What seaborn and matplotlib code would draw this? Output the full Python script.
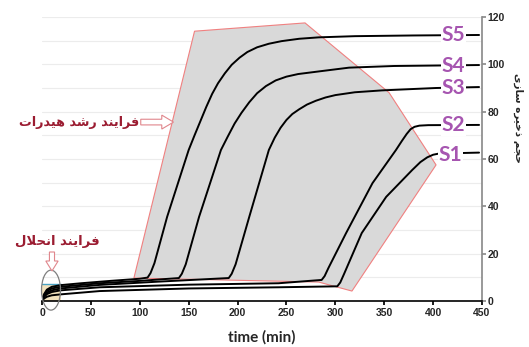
import numpy as np
import pandas as pd
import seaborn as sns
import matplotlib.pyplot as plt
from matplotlib.patches import Polygon, Rectangle, Ellipse, FancyArrow

# curves (time in min, storage volume)
s1_t = [0, 2, 5, 10, 19, 59, 150, 242, 302, 305, 309, 327, 352, 378.5, 387, 394, 400, 406, 447]
s1_v = [0, 1.0, 1.8, 2.4, 2.8, 4.2, 5.3, 5.8, 6.2, 7.8, 11.5, 28.7, 44, 55.3, 58.7, 60.7, 61.8, 62.3, 62.7]
s2_t = [0, 2, 5, 10, 19, 59, 150, 242, 286, 289, 293, 311, 338, 362, 368, 373, 377, 381, 386, 395, 447]
s2_v = [0, 1.6, 2.9, 3.8, 4.5, 5.8, 6.9, 7.5, 8.9, 10.5, 14, 28.7, 49.8, 63.8, 67.6, 70.6, 72.6, 73.6, 74.1, 74.3, 74.4]
s3_t = [0, 2, 5, 10, 19, 59, 120, 191, 194, 198, 212, 232, 238, 244, 250, 256, 263, 271, 280, 290, 300, 320, 348, 403, 447]
s3_v = [0, 2.0, 3.5, 4.5, 5.3, 6.8, 8.2, 9.7, 11.5, 15.5, 35.6, 63.8, 69, 73.2, 76.5, 79, 81, 83, 84.6, 86, 87, 88.2, 89, 90, 90.4]
s4_t = [0, 2, 5, 10, 19, 59, 100, 140, 143, 147, 160.6, 183, 190, 197, 204, 212, 220, 229, 239, 250, 262, 283, 314, 360, 447]
s4_v = [0, 2.4, 4.2, 5.3, 6.0, 7.5, 8.5, 9.7, 11.5, 15.5, 35.5, 63.8, 69.5, 75, 79.5, 84, 87.8, 90.8, 93.2, 94.8, 95.9, 97, 98.6, 99.3, 99.7]
s5_t = [0, 2, 5, 10, 19, 40, 70, 100, 108, 111, 115, 128, 150, 156, 162, 168, 174, 180, 187, 194, 202, 210, 220, 232, 245, 263, 283, 320, 380, 447]
s5_v = [0, 2.8, 4.8, 6.0, 6.7, 7.5, 8.5, 9.4, 9.9, 11.8, 16, 35.6, 63.8, 70, 76, 82, 87.5, 92, 96.2, 99.8, 102.8, 105.2, 107.2, 108.7, 109.8, 110.8, 111.4, 111.9, 112.2, 112.4]

labels = ["S1", "S2", "S3", "S4", "S5"]
label_t = [418, 421, 421, 421, 421]
label_v = [61.7, 74.4, 90.0, 99.3, 112.4]

# shaded growth region outline
region_t = [94, 156, 269, 355, 403, 317, 283]
region_v = [9.7, 114, 117.5, 88, 57.5, 4.2, 8.0]

series = [(s1_t, s1_v), (s2_t, s2_v), (s3_t, s3_v), (s4_t, s4_v), (s5_t, s5_v)]
df = pd.concat([pd.DataFrame({"time": t, "volume": v, "series": name})
                for name, (t, v) in zip(labels, series)], ignore_index=True)

# minimal Persian shaping (presentation forms: isolated, final, initial, medial)
FORMS = {
    "ا": "\ufe8d\ufe8e", "د": "\ufea9\ufeaa", "ذ": "\ufeab\ufeac",
    "ر": "\ufead\ufeae", "ز": "\ufeaf\ufeb0",
    "س": "\ufeb1\ufeb2\ufeb3\ufeb4", "ش": "\ufeb5\ufeb6\ufeb7\ufeb8",
    "ج": "\ufe9d\ufe9e\ufe9f\ufea0", "ح": "\ufea1\ufea2\ufea3\ufea4",
    "خ": "\ufea5\ufea6\ufea7\ufea8", "ف": "\ufed1\ufed2\ufed3\ufed4",
    "ل": "\ufedd\ufede\ufedf\ufee0", "م": "\ufee1\ufee2\ufee3\ufee4",
    "ن": "\ufee5\ufee6\ufee7\ufee8", "ه": "\ufee9\ufeea\ufeeb\ufeec",
    "ی": "\ufbfc\ufbfd\ufbfe\ufbff",
}


def shape(text):
    text = text.replace("\u0644\u0627", "\ufefb")
    out = []
    for i, ch in enumerate(text):
        prev = text[i - 1] if i > 0 else " "
        nxt = text[i + 1] if i + 1 < len(text) else " "
        jp = len(FORMS.get(prev, "")) == 4
        if ch == "\ufefb":
            out.append("\ufefc" if jp else ch)
            continue
        f = FORMS.get(ch)
        if f is None:
            out.append(ch)
            continue
        jn = len(f) == 4 and (nxt in FORMS or nxt == "\ufefb")
        if jp and jn:
            out.append(f[3])
        elif jp:
            out.append(f[1])
        elif jn:
            out.append(f[2])
        else:
            out.append(f[0])
    return "".join(reversed(out))


sns.set_theme(style="white")
plt.rcParams["font.family"] = ["DejaVu Sans"]

fig = plt.figure(figsize=(5.29, 3.47), dpi=100)
ax = fig.add_axes([42 / 529, 46 / 347, 440 / 529, 284 / 347])

# growth region and dissolution box
ax.add_patch(Polygon(list(zip(region_t, region_v)), closed=True, facecolor="#d9d9d9",
                     edgecolor="#f08080", lw=0.8, zorder=1))
ax.add_patch(Rectangle((0, 0), 19, 7, facecolor="#f2e2bd", edgecolor="none", zorder=1))
ax.plot([0, 19], [7, 7], color="#4aa3c4", lw=1, zorder=1.5)

sns.lineplot(data=df, x="time", y="volume", hue="series", palette=["black"] * 5,
             estimator=None, sort=False, legend=False, lw=1.4, ax=ax, zorder=3)

for name, t, v in zip(labels, label_t, label_v):
    ax.text(t, v, name, ha="center", va="center", fontsize=15, fontweight="bold",
            family="Lato", color="#a655b0", zorder=4,
            bbox=dict(facecolor="white", edgecolor="none", pad=0.5))

ax.add_patch(Ellipse((9.2, 4.6), 19.4, 16.9, facecolor="none", edgecolor="#7f7f7f",
                     lw=0.9, clip_on=False, zorder=5))
ax.add_patch(FancyArrow(10.2, 20.7, 0, -8, width=5.2, head_width=12.6, head_length=4.2,
                        length_includes_head=True, facecolor="white", edgecolor="#e0868c",
                        lw=0.8, clip_on=False, zorder=5))
ax.add_patch(FancyArrow(101, 75.6, 33.5, 0, width=2.4, head_width=5.9, head_length=12,
                        length_includes_head=True, facecolor="white", edgecolor="#e0868c",
                        lw=0.8, clip_on=False, zorder=5))

ax.text(99, 75.6, shape("فرایند رشد هیدرات"), ha="right", va="center", fontsize=9.2,
        fontweight="bold", color="#9b1c31", clip_on=False)
ax.text(15.3, 25, shape("فرایند انحلال"), ha="center", va="center", fontsize=9.5,
        fontweight="bold", color="#9b1c31", clip_on=False)
fig.text(518 / 529, 1 - 118 / 347, shape("حجم ذخیره سازی"), rotation=270,
         ha="center", va="center", fontsize=7.5, fontweight="bold")

ax.set_xlim(0, 450)
ax.set_ylim(0, 120)
ax.set_xticks(range(0, 451, 50))
ax.set_yticks(range(0, 121, 20))
ax.set_yticks(range(0, 121, 10), minor=True)
ax.yaxis.tick_right()
ax.grid(axis="y", which="both", color="#ececec", lw=0.8)
ax.set_axisbelow(True)
for side in ["left", "top"]:
    ax.spines[side].set_visible(False)
ax.spines["bottom"].set_color("black")
ax.spines["bottom"].set_linewidth(1.2)
ax.spines["right"].set_color("#8c8c8c")
ax.tick_params(axis="x", which="major", bottom=True, length=3, color="black",
               labelsize=7.5, pad=2)
ax.tick_params(axis="y", which="major", right=True, length=3, color="#8c8c8c",
               labelsize=7.5, pad=1)
ax.tick_params(axis="y", which="minor", length=0)
for lab in ax.get_xticklabels() + ax.get_yticklabels():
    lab.set_fontweight("bold")
    lab.set_family("Liberation Sans")
ax.set_xlabel("time (min)", fontsize=11, fontweight="bold", family="Lato", labelpad=9)
ax.set_ylabel("")

fig.savefig("out.png", dpi=100)
